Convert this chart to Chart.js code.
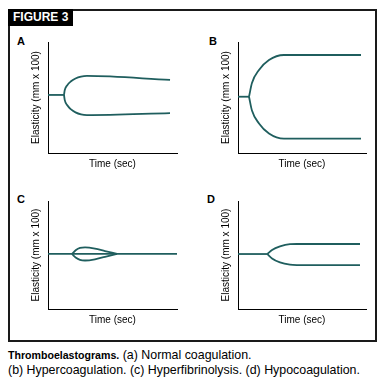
<!DOCTYPE html>
<html>
<head>
<meta charset="utf-8">
<script src="https://cdn.jsdelivr.net/npm/chart.js@4.4.1/dist/chart.umd.min.js"></script>
<style>
  html, body { margin: 0; padding: 0; background: #fff; }
  body { width: 385px; height: 391px; position: relative; overflow: hidden; font-family: 'Liberation Sans', Arial, sans-serif; }
  .frame { position: absolute; left: 8px; top: 9px; width: 365px; height: 329px; border: 2px solid #1a1a1a; }
  .tag { position: absolute; left: 8px; top: 9px; width: 65px; height: 17px; background: #000; color: #fff; white-space: nowrap;
         font: bold 12px 'Liberation Sans', Arial, sans-serif; line-height: 17px; padding-left: 5px; box-sizing: border-box; }
  .letter { position: absolute; font: bold 11px 'Liberation Sans', Arial, sans-serif; color: #000; }
  canvas { position: absolute; }
  .cap { position: absolute; left: 8px; font-size: 12.4px; color: #000; white-space: nowrap; }
  .cap b { font-weight: 900; font-size: 10.6px; }
</style>
</head>
<body>
<div class="frame"></div>
<div class="tag">FIGURE 3</div>
<div class="letter" style="left:17px;top:35px">A</div>
<div class="letter" style="left:209px;top:35px">B</div>
<div class="letter" style="left:17px;top:193px">C</div>
<div class="letter" style="left:207px;top:193px">D</div>
<canvas id="chA" width="152" height="133" style="left:28px;top:40px"></canvas>
<canvas id="chB" width="151" height="133" style="left:218px;top:40px"></canvas>
<canvas id="chC" width="152" height="130" style="left:28px;top:199px"></canvas>
<canvas id="chD" width="151" height="130" style="left:218px;top:199px"></canvas>
<div class="cap" style="top:348px"><b>Thromboelastograms.</b> (a) Normal coagulation.</div>
<div class="cap" style="top:363px">(b) Hypercoagulation. (c) Hyperfibrinolysis. (d) Hypocoagulation.</div>
<script>
// values, axes run 0..100 in both directions (no ticks shown)
const aBaseX = [0, 12.4];
const aBaseY = [52.3, 52.3];
const aCurveX = [12.4, 13.0, 14.8, 17.6, 21.3, 25.6, 30.2, 94.6];
const aUpperY = [52.3, 56.7, 60.9, 64.4, 67.1, 68.8, 69.4, 65.8];
const aLowerY = [52.3, 47.6, 43.2, 39.5, 36.6, 34.8, 34.2, 36.0];

const bBaseX = [0, 8.6];
const bBaseY = [50.7, 50.7];
const bCurveX = [8.6, 10.9, 16.4, 24.2, 35.9, 96.1];
const bUpperY = [50.7, 63.1, 74.8, 83.8, 88.3, 88.3];
const bLowerY = [50.7, 38.3, 26.6, 17.6, 12.9, 12.9];

const cBaseX = [0, 100];
const cBaseY = [51, 51];
const cCurveX = [18.6, 21.7, 24.8, 28.7, 36.4, 44.2, 53.5];
const cUpperY = [51, 54.6, 56.5, 57.1, 56.0, 53.7, 51];
const cLowerY = [51, 47.4, 45.5, 44.9, 46.0, 48.3, 51];

const dBaseX = [0, 22.9];
const dBaseY = [50.9, 50.9];
const dCurveX = [22.9, 26.6, 32.8, 40.6, 46.0, 95.3];
const dUpperY = [50.9, 54.6, 57.9, 60.0, 60.2, 60.2];
const dLowerY = [50.9, 46.8, 43.1, 41.0, 40.7, 40.7];

const xTitle = 'Time (sec)';
const yTitle = 'Elasticity (mm x 100)';

const teal = '#1f5e5e';
const sans = "'Liberation Sans', Arial, sans-serif";

const pts = (xs, ys) => xs.map((x, i) => ({ x, y: ys[i] }));

function panel(id, baseX, baseY, curveX, upperY, lowerY) {
  const line = (data) => ({
    data, borderColor: teal, borderWidth: 1.8, pointRadius: 0,
    cubicInterpolationMode: 'monotone', fill: false
  });
  const axisTitle = { color: '#000', font: { family: sans, size: 10 } };
  new Chart(document.getElementById(id), {
    type: 'line',
    data: {
      datasets: [
        { ...line(pts(baseX, baseY)), cubicInterpolationMode: 'default', tension: 0 },
        line(pts(curveX, upperY)),
        line(pts(curveX, lowerY))
      ]
    },
    options: {
      responsive: false, animation: false, events: [],
      layout: { padding: { top: 2, right: 3, left: 0, bottom: 0 } },
      plugins: { legend: { display: false }, tooltip: { enabled: false } },
      scales: {
        x: {
          type: 'linear', min: 0, max: 100,
          ticks: { display: false }, grid: { display: false, drawTicks: false },
          border: { display: true, color: '#000', width: 1 },
          title: { ...axisTitle, display: true, text: xTitle, padding: { top: 0, bottom: 3 } },
          afterFit: (s) => { s.height = 20; }
        },
        y: {
          type: 'linear', min: 0, max: 100,
          ticks: { display: false }, grid: { display: false, drawTicks: false },
          border: { display: true, color: '#000', width: 1 },
          title: { ...axisTitle, display: true, text: yTitle, padding: { top: 2, bottom: 0 } },
          afterFit: (s) => { s.width = 20; }
        }
      }
    }
  });
}

panel('chA', aBaseX, aBaseY, aCurveX, aUpperY, aLowerY);
panel('chB', bBaseX, bBaseY, bCurveX, bUpperY, bLowerY);
panel('chC', cBaseX, cBaseY, cCurveX, cUpperY, cLowerY);
panel('chD', dBaseX, dBaseY, dCurveX, dUpperY, dLowerY);
</script>
</body>
</html>
